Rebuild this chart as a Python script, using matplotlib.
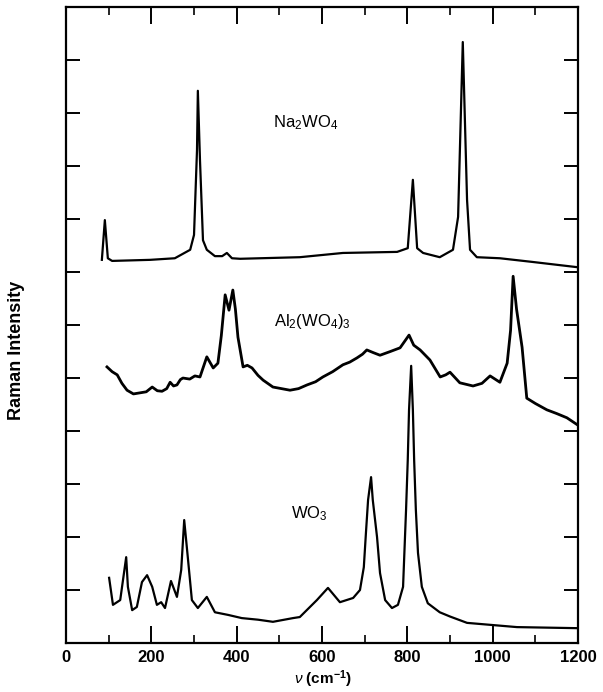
import matplotlib
matplotlib.use('Agg')
from matplotlib import pyplot as plt
from matplotlib.ticker import MultipleLocator

plt.rcParams['font.family'] = ['Liberation Sans', 'DejaVu Sans']
plt.rcParams['mathtext.fontset'] = 'custom'
plt.rcParams['mathtext.rm'] = 'Liberation Sans'
plt.rcParams['mathtext.it'] = 'Liberation Sans:italic'
plt.rcParams['mathtext.bf'] = 'Liberation Sans:bold'

# spectra: wavenumber (cm-1) and stacked intensity (arb. units)
na_nu = [84, 91, 98, 108, 197, 255, 291, 300, 307, 309, 314, 321, 330, 349, 366, 377,
         389, 408, 548, 649, 776, 801, 813, 823, 837, 876, 907, 919, 930, 940, 947,
         963, 1017, 1094, 1200]
na_int = [7.23, 7.98, 7.26, 7.21, 7.23, 7.26, 7.42, 7.70, 9.30, 10.42, 9.11, 7.60, 7.42,
          7.30, 7.30, 7.36, 7.26, 7.25, 7.28, 7.36, 7.38, 7.45, 8.74, 7.45, 7.36, 7.28,
          7.42, 8.04, 11.34, 8.36, 7.42, 7.28, 7.26, 7.19, 7.09]

al_nu = [96, 108, 120, 131, 143, 158, 173, 188, 202, 214, 225, 236, 244, 252, 260, 268,
         274, 290, 302, 314, 330, 345, 356, 364, 373, 382, 391, 397, 403, 415, 425, 436,
         450, 462, 485, 505, 525, 545, 565, 585, 602, 625, 649, 665, 682, 695, 705, 720,
         736, 760, 783, 804, 815, 830, 853, 877, 890, 900, 923, 954, 975, 994, 1017,
         1034, 1042, 1048, 1056, 1069, 1080, 1100, 1127, 1150, 1174, 1200]
al_int = [5.21, 5.12, 5.06, 4.90, 4.77, 4.70, 4.72, 4.74, 4.83, 4.76, 4.75, 4.80, 4.92,
          4.85, 4.87, 4.97, 5.00, 4.98, 5.04, 5.02, 5.40, 5.19, 5.28, 5.80, 6.57, 6.28,
          6.66, 6.30, 5.77, 5.21, 5.24, 5.19, 5.05, 4.96, 4.83, 4.80, 4.77, 4.80, 4.87,
          4.93, 5.02, 5.12, 5.25, 5.30, 5.38, 5.45, 5.53, 5.48, 5.43, 5.50, 5.57, 5.81,
          5.62, 5.53, 5.34, 5.02, 5.06, 5.11, 4.91, 4.85, 4.90, 5.04, 4.92, 5.28, 5.90,
          6.92, 6.30, 5.58, 4.62, 4.52, 4.40, 4.33, 4.25, 4.11]

wo_nu = [101, 110, 127, 141, 145, 155, 166, 178, 190, 202, 213, 223, 232, 246, 260, 270,
         277, 286, 295, 309, 330, 349, 380, 412, 450, 485, 532, 548, 588, 614, 642, 673,
         689, 698, 703, 708, 715, 719, 729, 736, 748, 764, 778, 790, 794, 797, 801, 804,
         809, 813, 816, 820, 825, 834, 848, 876, 900, 940, 1057, 1198]
wo_int = [1.23, 0.72, 0.81, 1.62, 1.06, 0.62, 0.68, 1.15, 1.28, 1.06, 0.72, 0.77, 0.66,
          1.17, 0.87, 1.38, 2.32, 1.57, 0.81, 0.66, 0.87, 0.58, 0.53, 0.47, 0.44, 0.40,
          0.47, 0.49, 0.81, 1.04, 0.77, 0.85, 1.00, 1.43, 2.08, 2.70, 3.13, 2.70, 2.00,
          1.32, 0.81, 0.66, 0.72, 1.06, 1.89, 2.51, 3.45, 4.40, 5.23, 4.40, 3.45, 2.51,
          1.70, 1.06, 0.75, 0.58, 0.50, 0.38, 0.30, 0.28]

fig = plt.figure(figsize=(6.03, 6.92), dpi=100)
ax = fig.add_axes([0.1095, 0.0708, 0.849, 0.919])

ax.plot(na_nu, na_int, color='black', lw=1.6)
ax.plot(al_nu, al_int, color='black', lw=2.0)
ax.plot(wo_nu, wo_int, color='black', lw=1.6)

ax.text(562, 9.81, r'Na$_{\mathrm{2}}$WO$_{\mathrm{4}}$', fontsize=12, ha='center', va='center')
ax.text(578, 6.06, r'Al$_{\mathrm{2}}$(WO$_{\mathrm{4}}$)$_{\mathrm{3}}$', fontsize=12, ha='center', va='center')
ax.text(570, 2.45, r'WO$_{\mathrm{3}}$', fontsize=12, ha='center', va='center')

ax.set_xlim(0, 1200)
ax.set_ylim(0, 12)
ax.xaxis.set_major_locator(MultipleLocator(200))
ax.xaxis.set_minor_locator(MultipleLocator(100))
ax.yaxis.set_major_locator(MultipleLocator(1))
ax.tick_params(axis='x', which='major', direction='in', length=12, width=1.4,
               top=True, labelsize=12, pad=5)
ax.tick_params(axis='x', which='minor', direction='in', length=6, width=1.2, top=True)
ax.tick_params(axis='y', which='major', direction='in', length=10, width=1.4,
               right=True, labelleft=False)
for lab in ax.get_xticklabels():
    lab.set_fontweight('bold')
for sp in ax.spines.values():
    sp.set_linewidth(1.6)

ax.set_ylabel('Raman Intensity', fontsize=13, fontweight='bold')
ax.yaxis.set_label_coords(-0.080, 0.46)
ax.set_xlabel(r'$\nu$ (cm$^{\mathbf{-1}}$)', fontsize=11, fontweight='bold')
ax.xaxis.set_label_coords(0.502, -0.040)

fig.savefig('out.png', dpi=100)
